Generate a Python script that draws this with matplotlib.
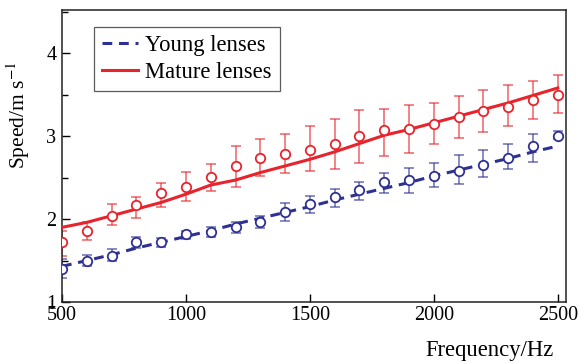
import matplotlib
matplotlib.use("Agg")
import matplotlib.pyplot as plt
from matplotlib.ticker import MultipleLocator

plt.rcParams['font.family'] = ['Liberation Serif', 'DejaVu Serif']
plt.rcParams['mathtext.fontset'] = 'stix'

freq = [500, 600, 700, 800, 900, 1000, 1100, 1200, 1300, 1400, 1500,
        1600, 1700, 1800, 1900, 2000, 2100, 2200, 2300, 2400, 2500]

mature_pts = [1.72, 1.86, 2.04, 2.17, 2.31, 2.39, 2.51, 2.64, 2.73, 2.79, 2.83,
              2.91, 3.00, 3.07, 3.08, 3.15, 3.23, 3.30, 3.35, 3.44, 3.50]
mature_lo = [0.17, 0.11, 0.11, 0.16, 0.17, 0.17, 0.17, 0.25, 0.21, 0.24, 0.25,
             0.31, 0.33, 0.31, 0.28, 0.25, 0.25, 0.25, 0.23, 0.24, 0.22]
mature_hi = [0.14, 0.11, 0.14, 0.09, 0.13, 0.18, 0.15, 0.24, 0.23, 0.23, 0.29,
             0.30, 0.32, 0.26, 0.30, 0.25, 0.25, 0.25, 0.26, 0.23, 0.24]
mature_fit = [1.90, 1.96, 2.04, 2.12, 2.20, 2.30, 2.41, 2.47, 2.56, 2.64, 2.72,
              2.81, 2.91, 3.01, 3.08, 3.16, 3.24, 3.32, 3.40, 3.49, 3.58]

young_pts = [1.40, 1.49, 1.56, 1.72, 1.72, 1.82, 1.84, 1.90, 1.97, 2.09, 2.18,
             2.26, 2.35, 2.45, 2.47, 2.52, 2.58, 2.65, 2.73, 2.88, 3.00]
young_lo = [0.11, 0.06, 0.07, 0.07, 0.06, 0.06, 0.06, 0.07, 0.08, 0.11, 0.11,
            0.11, 0.12, 0.13, 0.15, 0.13, 0.16, 0.14, 0.13, 0.19, 0.04]
young_hi = [0.12, 0.08, 0.08, 0.06, 0.05, 0.04, 0.06, 0.07, 0.07, 0.10, 0.10,
            0.10, 0.10, 0.11, 0.14, 0.16, 0.19, 0.18, 0.18, 0.15, 0.06]
young_fit = [1.43, 1.50, 1.57, 1.65, 1.72, 1.79, 1.86, 1.94, 2.01, 2.08, 2.15,
             2.23, 2.30, 2.37, 2.44, 2.52, 2.59, 2.66, 2.73, 2.81, 2.88]

red = '#e8232b'
blue = '#2e3192'

fig = plt.figure(figsize=(5.81, 3.63), dpi=100)
ax = fig.add_axes([0.1067, 0.168, 0.867, 0.8045])

ax.errorbar(freq, mature_pts, yerr=[mature_lo, mature_hi], fmt='none',
            ecolor=red, alpha=0.6, elinewidth=1.3, capsize=3.5, capthick=1.3, zorder=2)
ax.errorbar(freq, young_pts, yerr=[young_lo, young_hi], fmt='none',
            ecolor=blue, alpha=0.6, elinewidth=1.3, capsize=3.5, capthick=1.3, zorder=2)

ax.plot(freq, young_fit, color=blue, lw=2.2, ls=(0, (3.2, 2.2)), label='Young lenses', zorder=3)
ax.plot(freq, mature_fit, color=red, lw=2.2, label='Mature lenses', zorder=3)

ax.plot(freq, mature_pts, 'o', mfc='white', mec=red, mew=1.3, ms=6.8, zorder=4)
ax.plot(freq, young_pts, 'o', mfc='white', mec=blue, mew=1.3, ms=6.8, zorder=4)

ax.set_xlim(500, 2532)
ax.set_ylim(1, 4.52)
ax.xaxis.set_major_locator(MultipleLocator(500))
ax.yaxis.set_major_locator(MultipleLocator(1))
ax.yaxis.set_minor_locator(MultipleLocator(0.5))
ax.tick_params(axis='both', which='both', direction='in', labelsize=14.5, top=False, right=False)
ax.tick_params(axis='x', pad=3)
ax.tick_params(axis='y', pad=4)
ax.tick_params(which='major', length=6, width=1)
ax.tick_params(which='minor', length=4, width=1)
for s in ax.spines.values():
    s.set_linewidth(1.1)
    s.set_color('#222222')

ax.set_xlabel('Frequency/Hz', fontsize=16.3, va='top', ha='right')
ax.xaxis.set_label_coords(0.976, -0.13)
ax.set_ylabel('Speed/m s$^{-1}$', fontsize=15.5)
ax.yaxis.set_label_coords(-0.06, 0.64)

leg = ax.legend(loc='upper left', bbox_to_anchor=(0.064, 0.942), fontsize=16.3,
                frameon=True, fancybox=False, edgecolor='#333333', handlelength=1.6,
                borderpad=0.35, labelspacing=0.28, handletextpad=0.3, borderaxespad=0)
leg.get_frame().set_linewidth(0.9)

fig.savefig('out.png', dpi=100)
